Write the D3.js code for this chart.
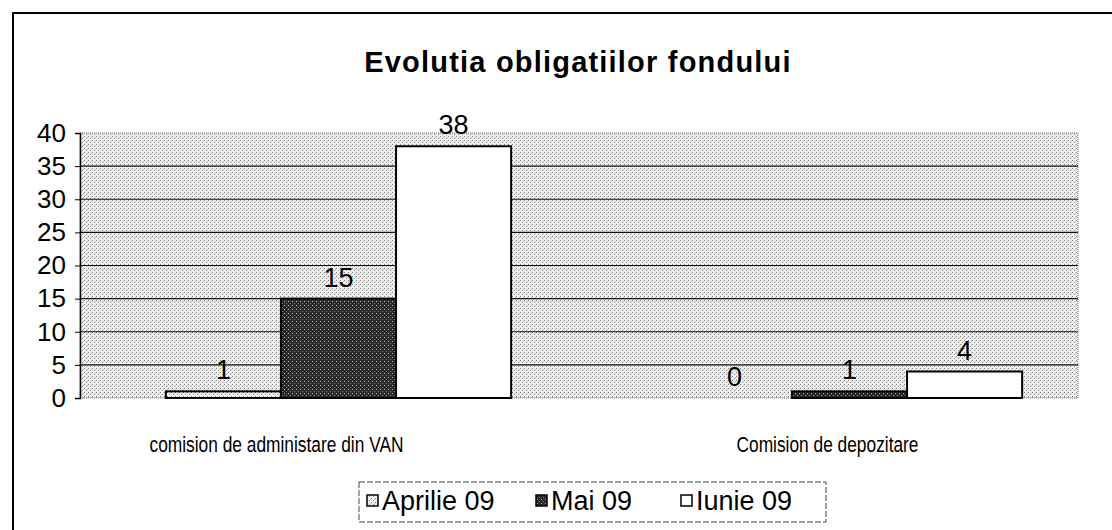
<!DOCTYPE html>
<html>
<head>
<meta charset="utf-8">
<script src="https://cdn.jsdelivr.net/npm/d3@7"></script>
<style>
	body { margin: 0; background: #fff; }
	text { font-family: "Liberation Sans", Arial, sans-serif; fill: #000; }
</style>
</head>
<body>
<div id="chart"></div>
<script>
// chart data
const categories = ["comision de administare din VAN", "Comision de depozitare"];
const seriesNames = ["Aprilie 09", "Mai 09", "Iunie 09"];
const aprilie = [1, 0];
const mai = [15, 1];
const iunie = [38, 4];
const yTicks = [0, 5, 10, 15, 20, 25, 30, 35, 40];
const title = "Evolutia obligatiilor fondului";

function createBarChart() {
	width = 1112;
	height = 530;
	plot = { left: 80, right: 1078, top: 133, bottom: 398 };

	const values = [aprilie, mai, iunie];
	const fills = ["url(#lightDots)", "url(#darkDots)", "#ffffff"];

	const svg = d3
		.select("div#chart")
		.append("svg")
		.attr("width", width)
		.attr("height", height);

	// stipple patterns, like the printed excel fills
	const defs = svg.append("defs");
	const light = defs.append("pattern").attr("id", "lightDots")
		.attr("patternUnits", "userSpaceOnUse").attr("width", 4).attr("height", 4);
	light.append("rect").attr("width", 4).attr("height", 4).attr("fill", "#eeeeee");
	light.append("rect").attr("x", 0).attr("y", 0).attr("width", 1).attr("height", 1).attr("fill", "#808080");
	light.append("rect").attr("x", 2).attr("y", 2).attr("width", 1).attr("height", 1).attr("fill", "#999999");
	light.append("rect").attr("x", 3).attr("y", 1).attr("width", 1).attr("height", 1).attr("fill", "#bbbbbb");

	const dark = defs.append("pattern").attr("id", "darkDots")
		.attr("patternUnits", "userSpaceOnUse").attr("width", 4).attr("height", 4);
	dark.append("rect").attr("width", 4).attr("height", 4).attr("fill", "#2a2a2a");
	dark.append("rect").attr("x", 1).attr("y", 1).attr("width", 1).attr("height", 1).attr("fill", "#b0b0b0");
	dark.append("rect").attr("x", 3).attr("y", 3).attr("width", 1).attr("height", 1).attr("fill", "#7a7a7a");

	// outer frame (left and top edges only visible)
	svg.append("path")
		.attr("d", `M13,${height} V13 H${width}`)
		.attr("fill", "none")
		.attr("stroke", "#000")
		.attr("stroke-width", 2);

	svg.append("text")
		.attr("x", 578)
		.attr("y", 72)
		.attr("text-anchor", "middle")
		.attr("font-size", 29)
		.attr("font-weight", "bold")
		.attr("letter-spacing", 1.2)
		.text(title);

	x = d3
		.scaleBand()
		.domain(categories)
		.range([83, 1105]);

	xs = d3
		.scaleBand()
		.domain(seriesNames)
		.range([0, x.bandwidth()])
		.paddingOuter(0.72);

	y = d3
		.scaleLinear()
		.domain([0, 40])
		.range([plot.bottom, plot.top]);

	// plot area
	svg.append("rect")
		.attr("x", plot.left)
		.attr("y", plot.top)
		.attr("width", plot.right - plot.left)
		.attr("height", plot.bottom - plot.top)
		.attr("fill", "url(#lightDots)")
		.attr("stroke", "#666")
		.attr("stroke-dasharray", "1,1");

	svg.append("g")
		.attr("class", "grid")
		.selectAll("line")
		.data(yTicks.filter((d) => d > 0 && d < 40))
		.join("line")
		.attr("x1", plot.left)
		.attr("x2", plot.right)
		.attr("y1", (d) => y(d))
		.attr("y2", (d) => y(d))
		.attr("stroke", "#111")
		.attr("stroke-width", 1.2);

	yAxis = (g) =>
		g
			.attr("transform", `translate(${plot.left}, 0)`)
			.call(d3.axisLeft(y).tickValues(yTicks).tickSize(5).tickPadding(9))
			.call((g) => g.selectAll("text").attr("font-size", 26).style("font-family", "Liberation Sans, Arial, sans-serif"))
			.call((g) => g.select(".domain").attr("stroke", "#000").attr("stroke-width", 1.5));

	svg.append("g").attr("class", "yAxis").call(yAxis);

	// bars
	const groups = svg
		.append("g")
		.selectAll("g")
		.data(categories)
		.join("g")
		.attr("transform", (d) => `translate(${x(d)}, 0)`);

	groups
		.selectAll("rect")
		.data((d, i) => seriesNames.map((s, j) => ({ s: s, v: values[j][i], fill: fills[j] })).filter((e) => e.v > 0))
		.join("rect")
		.attr("x", (d) => xs(d.s))
		.attr("y", (d) => y(d.v))
		.attr("width", xs.bandwidth())
		.attr("height", (d) => y(0) - y(d.v))
		.attr("fill", (d) => d.fill)
		.attr("stroke", "#000")
		.attr("stroke-width", 2);

	groups
		.selectAll("text")
		.data((d, i) => seriesNames.map((s, j) => ({ s: s, v: values[j][i] })))
		.join("text")
		.attr("x", (d) => xs(d.s) + xs.bandwidth() / 2)
		.attr("y", (d) => y(d.v) - 12)
		.attr("text-anchor", "middle")
		.attr("font-size", 27)
		.text((d) => d.v);

	// category labels (narrower than plain Arial in the original)
	const labelWidth = [254, 182];
	svg.append("g")
		.selectAll("text")
		.data(categories)
		.join("text")
		.attr("x", (d, i) => x(d) + x.bandwidth() / 2 + (i == 0 ? -62 : -22) - labelWidth[i] / 2)
		.attr("y", 452)
		.attr("font-size", 22)
		.attr("textLength", (d, i) => labelWidth[i])
		.attr("lengthAdjust", "spacingAndGlyphs")
		.text((d) => d);

	// legend
	const legend = svg.append("g").attr("transform", "translate(359, 482)");
	legend.append("rect")
		.attr("width", 467)
		.attr("height", 40)
		.attr("fill", "#fff")
		.attr("stroke", "#444")
		.attr("stroke-dasharray", "6,2");

	const legendX = [8, 177, 322];
	const items = legend
		.selectAll("g")
		.data(seriesNames)
		.join("g")
		.attr("transform", (d, i) => `translate(${legendX[i]}, 0)`);

	items.append("rect")
		.attr("x", 0)
		.attr("y", 13)
		.attr("width", 11)
		.attr("height", 11)
		.attr("fill", (d, i) => fills[i])
		.attr("stroke", "#000")
		.attr("stroke-width", 1.5);

	items.append("text")
		.attr("x", 15)
		.attr("y", 28)
		.attr("font-size", 27)
		.text((d) => d);
}

createBarChart();
</script>
</body>
</html>
